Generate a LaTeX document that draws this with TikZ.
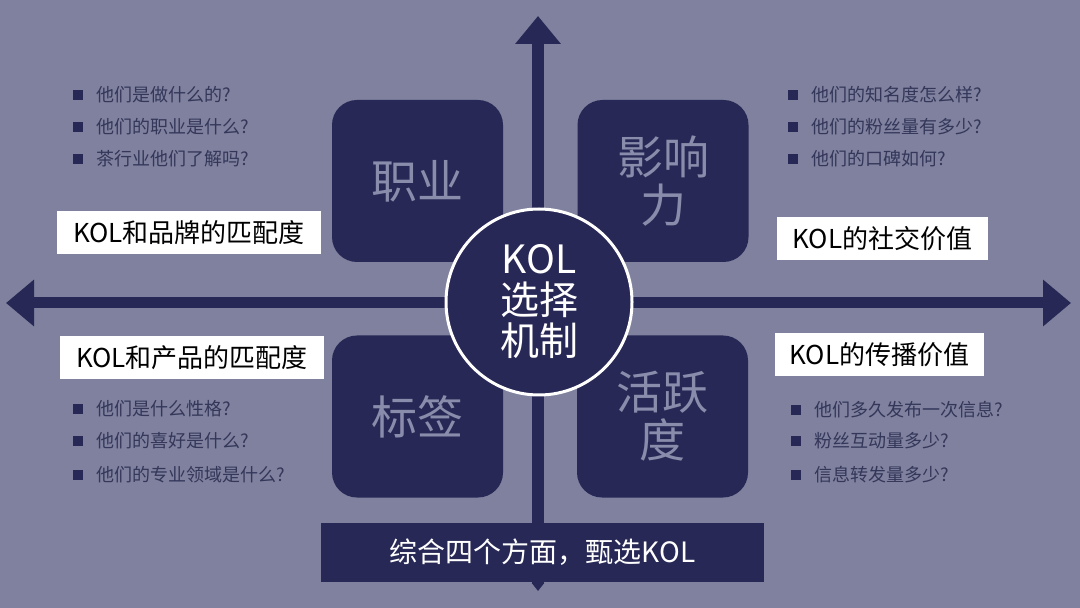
\documentclass[tikz,border=0pt]{standalone}
\usepackage{fontspec}
\setmainfont{Noto Sans CJK SC}
\usetikzlibrary{arrows.meta}
\definecolor{hgrund}{RGB}{127,129,158}
\definecolor{dunkel}{RGB}{39,40,85}
\definecolor{feld}{RGB}{138,140,171}
\definecolor{frage}{RGB}{52,54,90}
\tikzset{
  kasten/.style={fill=dunkel, rounded corners=12.5pt, minimum width=85.5pt,
    minimum height=81pt, text=feld, align=center,
    font=\fontsize{23}{24}\selectfont},
  schild/.style={fill=white, minimum height=21.5pt, inner sep=0pt,
    font=\fontsize{13}{15}\selectfont},
  punkt/.style={anchor=west, inner sep=0pt, text=frage,
    font=\fontsize{9}{11}\selectfont,
    label={[fill=dunkel, minimum size=5pt, inner sep=0pt, xshift=-6.5pt]left:{}}},
}
\begin{document}
\begin{tikzpicture}[x=0.5pt, y=-0.5pt]
            % Hintergrund
            \fill[hgrund] (0,0) rectangle (1080,608);
            % Achsen
            \coordinate (oben) at (538,16);
            \coordinate (unten) at (538,591);
            \coordinate (links) at (6,303);
            \coordinate (rechts) at (1071,303);
            \draw[dunkel, line width=6pt, {Triangle[width=6pt,length=4pt]}-{Triangle[width=22pt,length=14pt]}] (unten) -- (oben);
            \draw[dunkel, line width=5.5pt, {Triangle[width=22.5pt,length=14pt]}-{Triangle[width=22.5pt,length=14pt]}] (links) -- (rechts);
            % Felder
            \node[kasten] (beruf) at (417.5,181) {职业};
            \node[kasten] (einfluss) at (663,181) {影响\\力};
            \node[kasten] (etikett) at (417.5,416.5) {标签};
            \node[kasten] (aktiv) at (662.5,416.5) {活跃\\度};
            % Kreis
            \node[circle, fill=dunkel, draw=white, line width=1.5pt, minimum size=93pt, inner sep=0pt,
              text=white, align=center, font=\fontsize{19.5}{20.5}\selectfont] (mitte) at (539,302) {KOL\\选择\\机制};
            % Fazit
            \node[fill=dunkel, minimum width=221.5pt, minimum height=29.5pt, text=white,
              font=\fontsize{14}{16}\selectfont] (fazit) at (542.5,552.5) {综合四个方面，甄选KOL};
            % Schilder
            \node[schild, minimum width=132pt] (marke) at (189,232.5) {KOL和品牌的匹配度};
            \node[schild, minimum width=105.5pt] (sozial) at (882.5,238.5) {KOL的社交价值};
            \node[schild, minimum width=132pt] (produkt) at (192,357.5) {KOL和产品的匹配度};
            \node[schild, minimum width=104.5pt] (verbreitung) at (879.5,354.5) {KOL的传播价值};
            % Fragen oben links
            \node[punkt] (ol1) at (96,95) {他们是做什么的?};
            \node[punkt] (ol2) at (96,127) {他们的职业是什么?};
            \node[punkt] (ol3) at (96,159) {茶行业他们了解吗?};
            % Fragen oben rechts
            \node[punkt] (or1) at (811,95) {他们的知名度怎么样?};
            \node[punkt] (or2) at (811,127) {他们的粉丝量有多少?};
            \node[punkt] (or3) at (811,159) {他们的口碑如何?};
            % Fragen unten links
            \node[punkt] (ul1) at (96,409) {他们是什么性格?};
            \node[punkt] (ul2) at (96,441) {他们的喜好是什么?};
            \node[punkt] (ul3) at (96,475) {他们的专业领域是什么?};
            % Fragen unten rechts
            \node[punkt] (ur1) at (814,410) {他们多久发布一次信息?};
            \node[punkt] (ur2) at (814,441) {粉丝互动量多少?};
            \node[punkt] (ur3) at (814,475) {信息转发量多少?};
\end{tikzpicture}
\end{document}
